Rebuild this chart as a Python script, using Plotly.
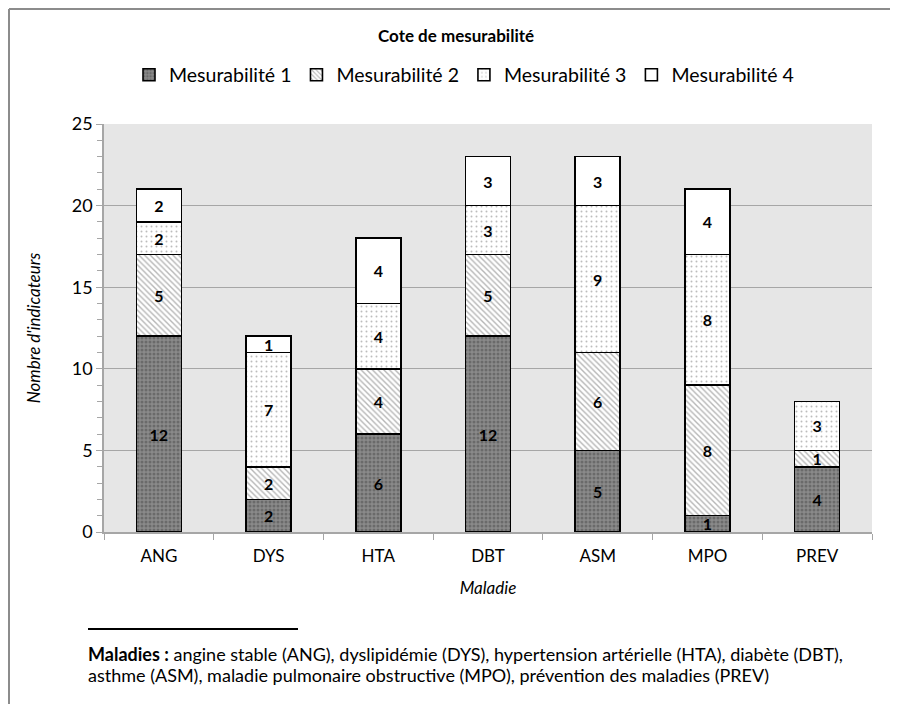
import plotly.graph_objects as go

categories = ["ANG", "DYS", "HTA", "DBT", "ASM", "MPO", "PREV"]
mes1 = [12, 2, 6, 12, 5, 1, 4]
mes2 = [5, 2, 4, 5, 6, 8, 1]
mes3 = [2, 7, 4, 3, 9, 8, 3]
mes4 = [2, 1, 4, 3, 3, 4, 0]
series_names = ["Mesurabilité 1", "Mesurabilité 2", "Mesurabilité 3", "Mesurabilité 4"]

FONT = "Lato, Open Sans, sans-serif"

styles = [
    dict(color="#8a8a8a", pattern=dict(shape=".", fgcolor="#4a4a4a", bgcolor="#8a8a8a", size=4, solidity=0.45)),
    dict(color="#ffffff", pattern=dict(shape="\\", fgcolor="#6e6e6e", bgcolor="#ffffff", size=4, solidity=0.35)),
    dict(color="#ffffff", pattern=dict(shape=".", fgcolor="#7a7a7a", bgcolor="#ffffff", size=5, solidity=0.12)),
    dict(color="#ffffff", pattern=None),
]

fig = go.Figure()
for name, vals, st in zip(series_names, [mes1, mes2, mes3, mes4], styles):
    marker = dict(color=st["color"], line=dict(color="#000000", width=1.6))
    if st["pattern"]:
        marker["pattern"] = st["pattern"]
    fig.add_trace(go.Bar(
        name=name, x=categories, y=vals, marker=marker,
        text=[str(v) if v else "" for v in vals],
        textposition="inside", insidetextanchor="middle", textangle=0,
        constraintext="none",
        textfont=dict(family=FONT, size=16, color="#000000", weight="bold"),
    ))

# page offset of the figure (body margin)
OFF = 8
W, H = 898 - OFF, 704 - OFF
L, R, T, B = 104 - OFF, 26, 124 - OFF, 172
pw, ph = W - L - R, H - T - B

def px(x):
    return (x - OFF - L) / pw

def py(y):
    return (H - B - (y - OFF)) / ph

shapes = [
    dict(type="line", xref="paper", yref="paper", x0=px(9), x1=px(9), y0=py(9), y1=py(710),
         line=dict(color="#8c8c8c", width=2)),
    dict(type="line", xref="paper", yref="paper", x0=px(9), x1=px(910), y0=py(9), y1=py(9),
         line=dict(color="#8c8c8c", width=2)),
    dict(type="line", xref="paper", yref="paper", x0=px(88), x1=px(298), y0=py(629), y1=py(629),
         line=dict(color="#000000", width=2)),
]

annotations = [
    dict(xref="paper", yref="paper", x=px(86), y=py(654), xanchor="left", yanchor="middle",
         showarrow=False, align="left",
         text="<b>Maladies :</b> angine stable (ANG), dyslipidémie (DYS), hypertension artérielle (HTA), diabète (DBT),",
         font=dict(family=FONT, size=18, color="#000000")),
    dict(xref="paper", yref="paper", x=px(86), y=py(675), xanchor="left", yanchor="middle",
         showarrow=False, align="left",
         text="asthme (ASM), maladie pulmonaire obstructive (MPO), prévention des maladies (PREV)",
         font=dict(family=FONT, size=18, color="#000000")),
]

fig.update_layout(
    width=W, height=H,
    margin=dict(l=L, r=R, t=T, b=B),
    barmode="stack", bargap=0.59,
    paper_bgcolor="#ffffff", plot_bgcolor="#e6e6e6",
    font=dict(family=FONT, size=17, color="#000000"),
    title=dict(text="<b>Cote de mesurabilité</b>", x=(456 - OFF) / W, xanchor="center",
               y=1 - (36 - OFF) / H, yanchor="middle", font=dict(size=17, family=FONT)),
    legend=dict(orientation="h", xref="container", yref="container",
                x=(464 - OFF) / W, xanchor="center", y=1 - (75 - OFF) / H, yanchor="middle",
                font=dict(size=19.5, family=FONT), traceorder="normal",
                itemwidth=30, bgcolor="rgba(0,0,0,0)"),
    xaxis=dict(
        title=dict(text="<i>Maladie</i>", standoff=17, font=dict(size=17)),
        showline=True, linecolor="#a6a6a6", linewidth=1.5,
        ticks="outside", tickson="boundaries", ticklen=6, tickcolor="#a6a6a6",
        ticklabelstandoff=8,
        tickfont=dict(size=17), showgrid=False,
    ),
    yaxis=dict(
        title=dict(text="<i>Nombre d'indicateurs</i>", standoff=27, font=dict(size=17)),
        range=[0, 25], dtick=5, tick0=0,
        showline=True, linecolor="#a6a6a6", linewidth=1.5,
        ticks="outside", ticklen=6, tickcolor="#a6a6a6",
        showgrid=True, gridcolor="#a6a6a6", gridwidth=1.2,
        minor=dict(dtick=1, ticks="outside", ticklen=5, tickcolor="#a6a6a6", showgrid=False),
        tickfont=dict(size=18), zeroline=False,
    ),
    shapes=shapes,
    annotations=annotations,
)

fig.write_html("out.html")
